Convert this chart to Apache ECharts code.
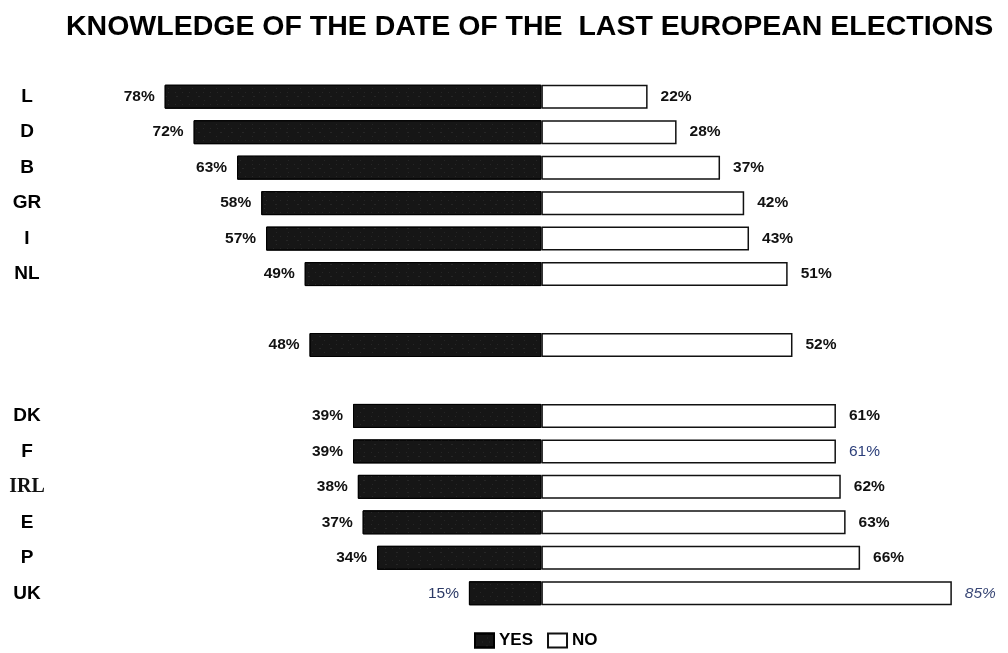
<!DOCTYPE html>
<html>
<head>
<meta charset="utf-8">
<script src="https://cdn.jsdelivr.net/npm/echarts@6/dist/echarts.min.js"></script>
<style>
  html, body { margin: 0; padding: 0; background: #fff; }
  #chart { width: 1008px; height: 653px; }
</style>
</head>
<body>
<div id="chart"></div>
<script>
// Country rows, top to bottom; empty strings are spacer rows and the unlabelled Community average.
const categories = ['L', 'D', 'B', 'GR', 'I', 'NL', '', '', '', 'DK', 'F', 'IRL', 'E', 'P', 'UK'];
// Share who knew the date (YES) and who did not (NO), in percent.
const yesValues = [78, 72, 63, 58, 57, 49, null, 48, null, 39, 39, 38, 37, 34, 15];
const noValues  = [22, 28, 37, 42, 43, 51, null, 52, null, 61, 61, 62, 63, 66, 85];
const titleText = 'KNOWLEDGE OF THE DATE OF THE  LAST EUROPEAN ELECTIONS';

const FONT = '"Liberation Sans", Arial, sans-serif';

const chart = echarts.init(document.getElementById('chart'), null, { renderer: 'canvas' });

const labelBase = { show: true, fontFamily: FONT, fontWeight: 'bold', fontSize: 15.5, color: '#111' };

// YES bars run leftwards from zero, so they are drawn as negative values.
const yesData = yesValues.map((v, i) => {
  if (v == null) return '-';
  const item = { value: -v };
  if (categories[i] === 'UK') {
    item.label = { fontWeight: 'normal', color: '#2c3a66' };
  }
  return item;
});

const noData = noValues.map((v, i) => {
  if (v == null) return '-';
  const item = { value: v };
  if (categories[i] === 'UK') {
    item.label = { fontWeight: 'normal', fontStyle: 'italic', color: '#3a4876' };
  } else if (categories[i] === 'F') {
    item.label = { fontWeight: 'normal', color: '#2c3f7a' };
  }
  return item;
});

const option = {
  backgroundColor: '#ffffff',
  animation: false,
  title: {
    text: titleText,
    left: 61,
    top: 8,
    textStyle: { fontFamily: FONT, fontWeight: 'bold', fontSize: 28.5, color: '#000' }
  },
  legend: {
    left: 469,
    top: 627,
    itemWidth: 19,
    itemHeight: 14,
    itemGap: 14,
    icon: 'rect',
    textStyle: { fontFamily: FONT, fontWeight: 'bold', fontSize: 17, color: '#000' },
    data: ['YES', 'NO']
  },
  grid: { left: 155, right: 32, top: 79, height: 532, containLabel: false },
  xAxis: {
    type: 'value',
    min: -80,
    max: 90,
    show: false
  },
  yAxis: {
    type: 'category',
    inverse: true,
    data: categories,
    axisLine: { show: false },
    axisTick: { show: false },
    splitLine: { show: false },
    axisLabel: {
      align: 'center',
      margin: 128,
      fontFamily: FONT,
      fontWeight: 'bold',
      fontSize: 19,
      color: '#000',
      formatter: v => v === 'IRL' ? '{serif|IRL}' : v,
      rich: {
        serif: { fontFamily: '"Liberation Serif", "Times New Roman", serif', fontSize: 20, color: '#111' }
      }
    }
  },
  series: [
    {
      name: 'YES',
      type: 'bar',
      stack: 'share',
      barWidth: 24,
      data: yesData,
      itemStyle: {
        color: '#161616',
        borderColor: '#000',
        borderWidth: 1,
        decal: {
          symbol: 'rect',
          symbolSize: 0.5,
          dashArrayX: [[1, 6], [2, 9], [1, 11]],
          dashArrayY: [1, 3],
          rotation: 0,
          color: 'rgba(255,255,255,0.28)'
        }
      },
      label: Object.assign({}, labelBase, {
        position: 'left',
        distance: 10,
        formatter: p => Math.abs(p.value) + '%'
      })
    },
    {
      name: 'NO',
      type: 'bar',
      stack: 'share',
      barWidth: 24,
      data: noData,
      itemStyle: { color: '#ffffff', borderColor: '#111', borderWidth: 1.5 },
      label: Object.assign({}, labelBase, {
        position: 'right',
        distance: 13,
        formatter: p => p.value + '%'
      })
    }
  ]
};

chart.setOption(option);
</script>
</body>
</html>
